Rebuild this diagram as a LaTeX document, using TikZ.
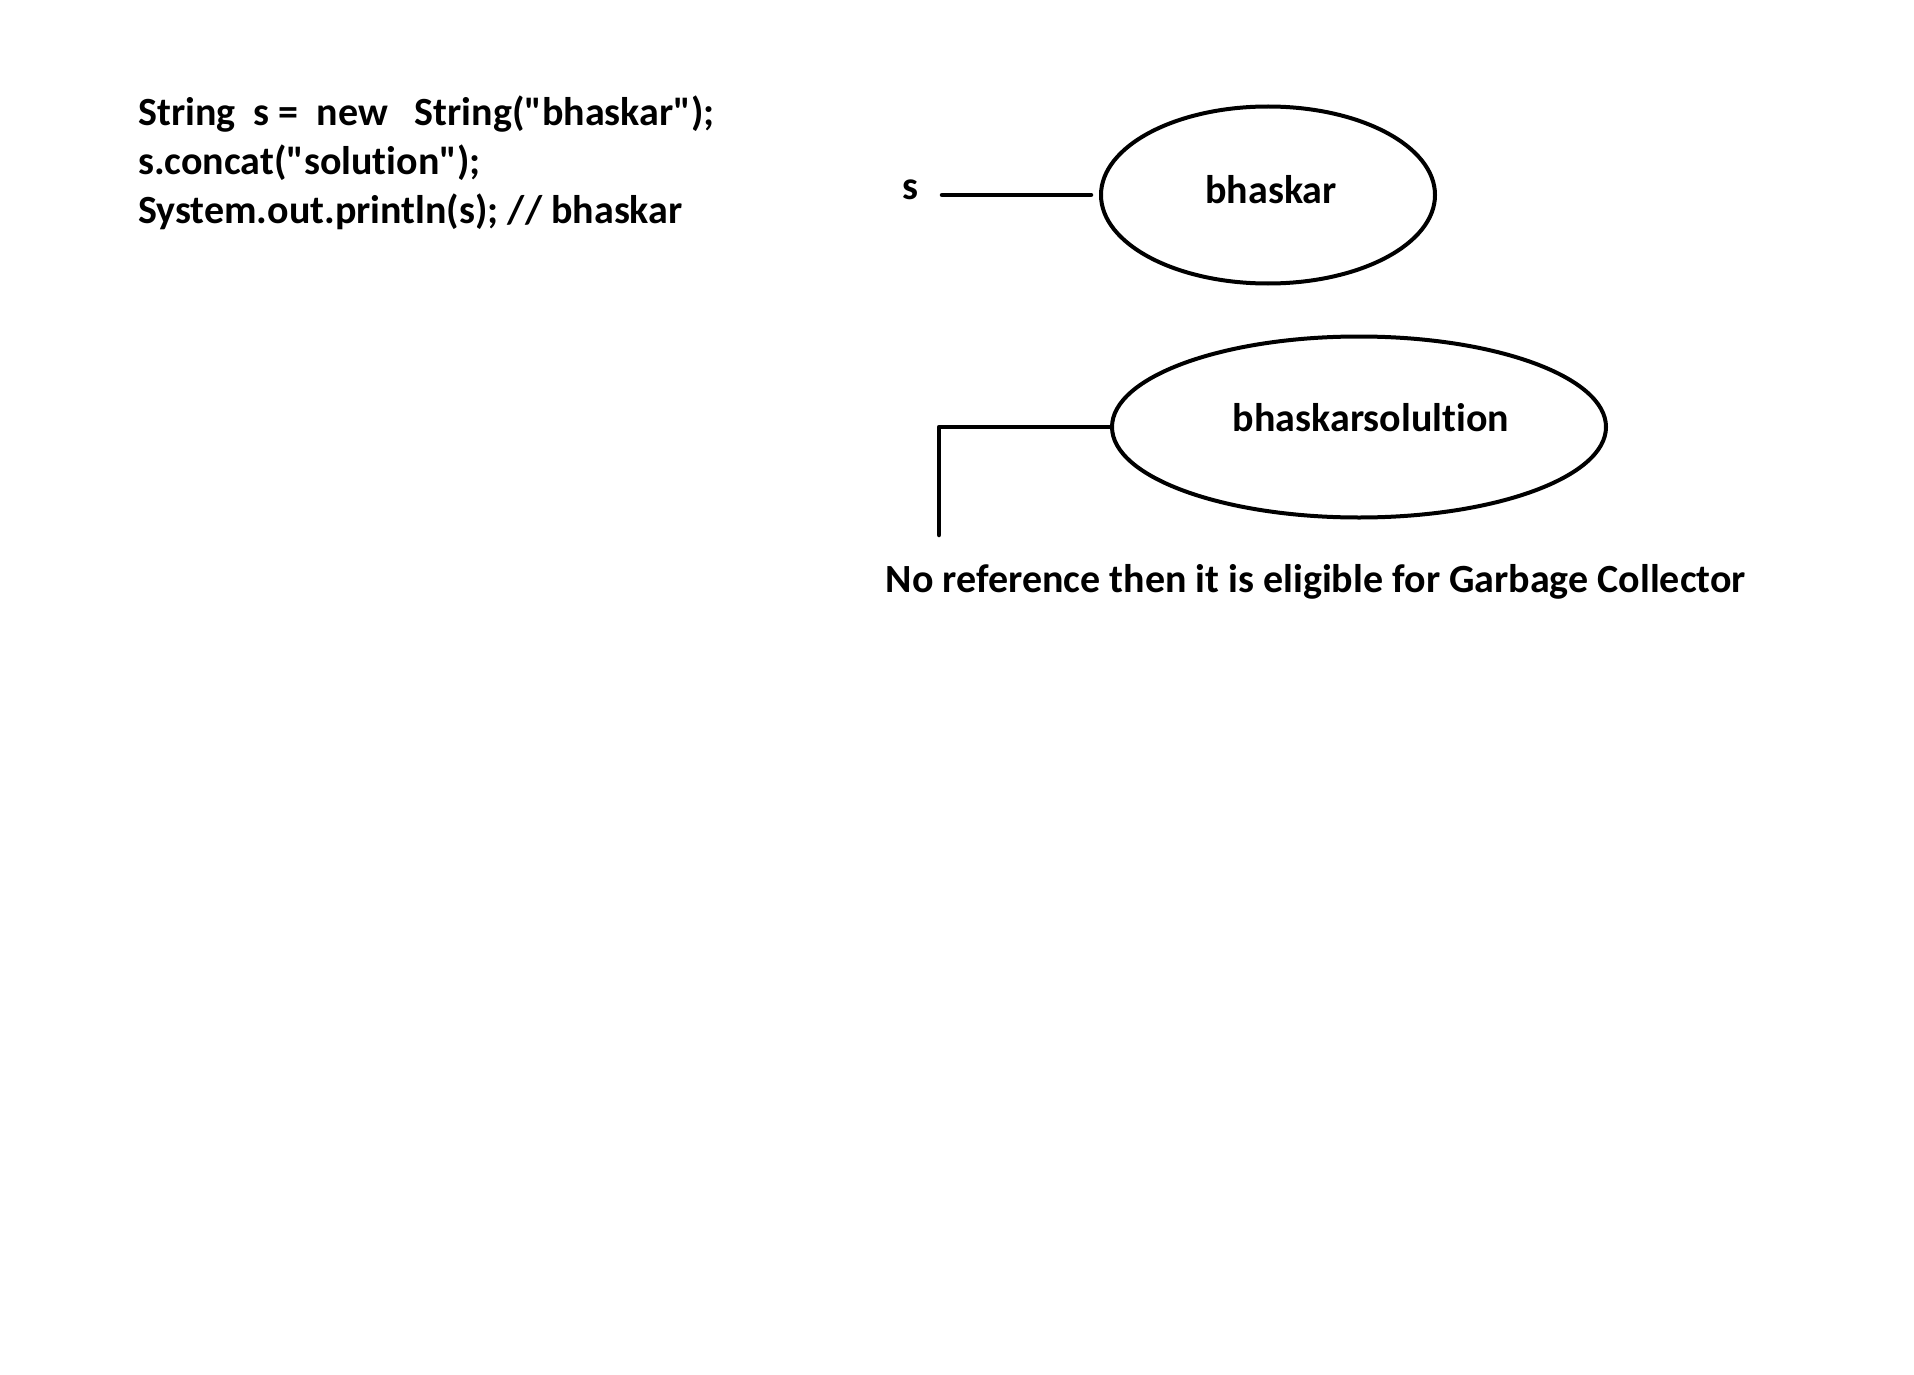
\documentclass[tikz,border=0pt]{standalone}
\usepackage{fontspec}
\setmainfont{Carlito}[Ligatures={NoCommon}]
\usetikzlibrary{shapes.geometric}
\newcommand{\dq}{\textquotedbl}
\begin{document}
\begin{tikzpicture}[x=1pt,y=-1pt,line join=round,line cap=round,
	obj/.style={draw,ellipse,line width=4pt,inner sep=0pt},
	txt/.style={font=\fontsize{40}{49}\selectfont\bfseries,inner sep=0pt}]
	%==khung hình
	\useasboundingbox (0,0) rectangle (1914,1375);
	%==đoạn mã
	\node[txt,anchor=west,align=left] (code) at (138,163)
		{String\ \ s =\ \ new\ \ \ String(\dq bhaskar\dq);\\
		 s.concat(\dq solution\dq);\\
		 System.out.println(s); // bhaskar};
	%==các đối tượng
	\node[obj,minimum width=334,minimum height=177] (bhaskar) at (1268,195) {};
	\node[txt] at (1271,190) {bhaskar};
	\node[obj,minimum width=494,minimum height=181] (bhaskarsol) at (1359,427) {};
	\node[txt] at (1371,418) {bhaskarsolultion};
	\node[txt] (s) at (910,190) {s};
	\coordinate (dead) at (939,535);
	\draw[line width=4.5pt,shorten >=8pt] (942,195) -- (bhaskar.west);
	\draw[line width=4.5pt] (bhaskarsol.west) -| (dead);
	\node[txt] (note) at (1316,582) {No reference then it is eligible for Garbage Collector};
\end{tikzpicture}
\end{document}
